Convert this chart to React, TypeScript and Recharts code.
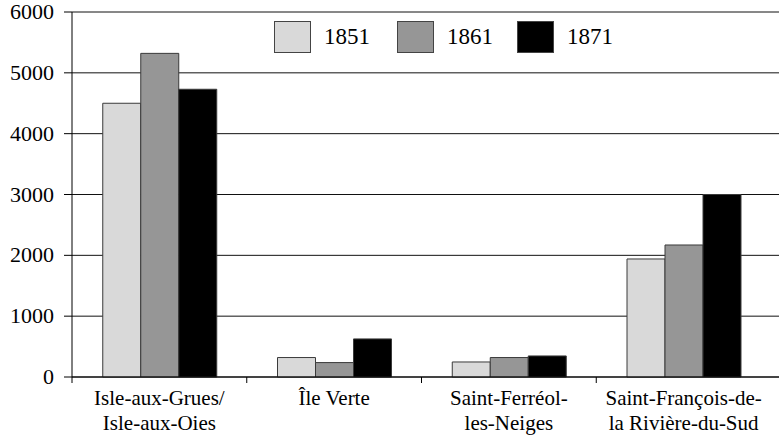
import React from 'react';
import { BarChart, Bar, XAxis, YAxis, CartesianGrid, Legend } from 'recharts';

const categories = ['Isle-aux-Grues/\nIsle-aux-Oies', 'Île Verte', 'Saint-Ferréol-\nles-Neiges', 'Saint-François-de-\nla Rivière-du-Sud'];
const years = ['1851', '1861', '1871'];
const values1851 = [4500, 320, 247, 1940];
const values1861 = [5320, 237, 320, 2170];
const values1871 = [4730, 626, 346, 3000];
const yTicks = [0, 1000, 2000, 3000, 4000, 5000, 6000];
const colors = ['#d9d9d9', '#969696', '#000000'];

const data = categories.map((c, i) => ({
  name: c,
  '1851': values1851[i],
  '1861': values1861[i],
  '1871': values1871[i],
}));

const FONT = 'Liberation Serif';
const CSS = `html body #root div svg text, html body #root div svg tspan, html body #root div svg .serif-tick { font-family: "Liberation Serif", serif !important; }`;

const XTick = (props: any) => {
  const { x, y, payload } = props;
  const band = 174.75;
  const lines = String(payload.value).split('\n');
  return (
    <g>
      <line x1={x - band / 2} y1={y - 8} x2={x - band / 2} y2={y - 2} stroke="#000" strokeWidth={1} />
      <text className="serif-tick" x={x} y={y} textAnchor="middle" fontFamily={FONT} fontSize={21} fill="#000">
        {lines.map((l: string, i: number) => (
          <tspan key={i} x={x} dy={i === 0 ? 20 : 25}>{l}</tspan>
        ))}
      </text>
    </g>
  );
};

const YTick = (props: any) => {
  const { x, y, payload } = props;
  return (
    <text className="serif-tick" x={x} y={y} dy={7} textAnchor="end" fontFamily={FONT} fontSize={22} fill="#000">
      {payload.value}
    </text>
  );
};

const LegendContent = () => (
  <div style={{ display: 'flex', alignItems: 'center', fontFamily: FONT, fontSize: 23, color: '#000' }}>
    {years.map((y, i) => (
      <div key={y} style={{ display: 'flex', alignItems: 'center', marginRight: i === 0 ? 27 : 24 }}>
        <div style={{ width: 37, height: 32, background: colors[i], border: '1px solid #444', boxSizing: 'border-box' }} />
        <span style={{ marginLeft: 13, lineHeight: '32px' }}>{y}</span>
      </div>
    ))}
  </div>
);

export default function App() {
  return (
    <div style={{ position: 'absolute', left: 0, top: 0, width: 779, height: 438, background: '#fff', fontFamily: FONT }}>
      <style>{CSS}</style>
      <BarChart
        width={779}
        height={438}
        data={data}
        margin={{ top: 12, right: 0, left: 0, bottom: 0 }}
        barCategoryGap="17.6%"
        barGap={0}
      >
        <CartesianGrid horizontal vertical={false} stroke="#111" strokeWidth={1} />
        <XAxis
          dataKey="name"
          height={61}
          interval={0}
          padding={{ left: 0, right: 8 }}
          axisLine={{ stroke: '#000', strokeWidth: 1 }}
          tickLine={false}
          tick={<XTick />}
        />
        <YAxis
          width={72}
          domain={[0, 6000]}
          ticks={yTicks}
          interval={0}
          axisLine={{ stroke: '#000', strokeWidth: 1 }}
          tickLine={{ stroke: '#000', strokeWidth: 1 }}
          tickSize={8}
          tickMargin={10}
          tick={<YTick />}
        />
        <Legend
          verticalAlign="middle"
          align="center"
          layout="horizontal"
          content={<LegendContent />}
          wrapperStyle={{ top: 21, left: 274, width: 360, height: 33 }}
        />
        {years.map((y, i) => (
          <Bar key={y} dataKey={y} fill={colors[i]} stroke="#3a3a3a" strokeWidth={1} isAnimationActive={false} />
        ))}
      </BarChart>
    </div>
  );
}
